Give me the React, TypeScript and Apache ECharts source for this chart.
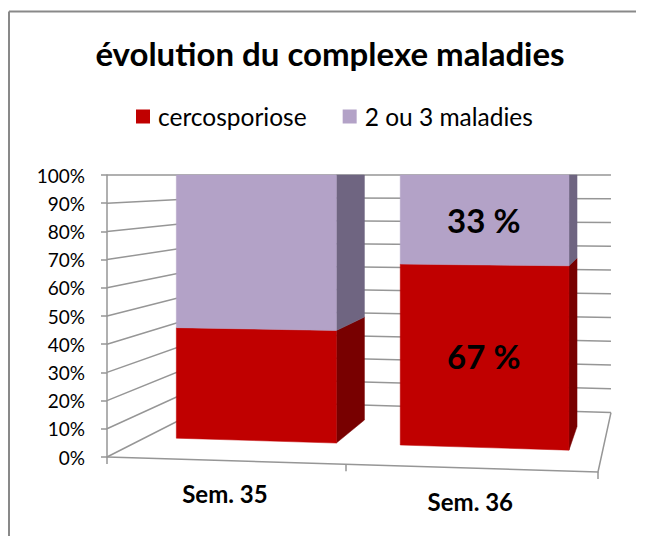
import React, { useEffect, useRef } from "react";
import * as echarts from "echarts";

// ---- data ----
const categories = ["Sem. 35", "Sem. 36"];
const cercosporiose = [42, 67];
const deuxOuTrois = [58, 33];
const showValueLabel = [false, true];
const gridValues = [0, 10, 20, 30, 40, 50, 60, 70, 80, 90, 100];
const seriesNames = ["cercosporiose", "2 ou 3 maladies"];

// ---- layout / style constants (perspective look) ----
const WARP = 0.0516;
const FRONT_SLOPE = 0.0305;
const VP_REL = 1.132;
const WALL_DEPTH = 0.2;
const BAR_FRONT = 0.07;
const BAR_BACK = 0.15;
const BAR_RATIO = 0.72;
const GRID_COLOR = "#969696";
const FRONT_COLORS = ["#C00000", "#B3A2C7"];
const SIDE_COLORS = ["#780000", "#6F6581"];
const FONT = "Lato";

function makeProj(cs: any) {
  const gx = cs.x, gy = cs.y, gw = cs.width, gh = cs.height;
  const vpX = gx + VP_REL * gw;
  return (px: number, py: number, phi: number) => {
    const X = (px - gx) / gw;
    const w = (X * (1 - WARP)) / (1 - WARP * X);
    const xf = gx + gw * w;
    const floorY = gy + gh + FRONT_SLOPE * (xf - gx);
    const vfrac = (py - gy) / gh;
    const yf = gy + vfrac * (floorY - gy);
    return [xf + (vpX - xf) * phi, gy + (yf - gy) * (1 - phi)];
  };
}

function barRender(seriesIdx: number) {
  return (params: any, api: any) => {
    const cat = api.value(0);
    const lo = api.value(1);
    const hi = api.value(2);
    const val = api.value(3);
    const top = api.coord([cat, hi]);
    const bot = api.coord([cat, lo]);
    const bw = api.size([1, 0])[0] * BAR_RATIO;
    const l = top[0] - bw / 2;
    const r = top[0] + bw / 2;
    const P = makeProj(params.coordSys);
    const front = [P(l, top[1], BAR_FRONT), P(r, top[1], BAR_FRONT), P(r, bot[1], BAR_FRONT), P(l, bot[1], BAR_FRONT)];
    const side = [P(r, top[1], BAR_FRONT), P(r, top[1], BAR_BACK), P(r, bot[1], BAR_BACK), P(r, bot[1], BAR_FRONT)];
    const children: any[] = [
      { type: "polygon", shape: { points: side }, style: { fill: SIDE_COLORS[seriesIdx], stroke: SIDE_COLORS[seriesIdx], lineWidth: 0.5 } },
      { type: "polygon", shape: { points: front }, style: { fill: FRONT_COLORS[seriesIdx], stroke: FRONT_COLORS[seriesIdx], lineWidth: 0.5 } },
    ];
    if (showValueLabel[cat]) {
      const c = P(top[0], (top[1] + bot[1]) / 2, BAR_FRONT);
      children.push({
        type: "text",
        x: c[0],
        y: c[1],
        style: {
          text: `${val} %`,
          fill: "#000",
          fontFamily: FONT,
          fontWeight: "bold",
          fontSize: 33,
          align: "center",
          verticalAlign: "middle",
        },
      });
    }
    return { type: "group", children };
  };
}

export default function App() {
  const ref = useRef<HTMLDivElement>(null);
  useEffect(() => {
    if (!ref.current) return;
    const chart = echarts.init(ref.current, null, { renderer: "svg" });
    const lineStyle = { stroke: GRID_COLOR, lineWidth: 1.5, fill: "none" };
    const option: any = {
      animation: false,
      backgroundColor: "#ffffff",
      title: {
        text: "évolution du complexe maladies",
        left: 325,
        textAlign: "center",
        top: 31,
        textStyle: { fontFamily: FONT, fontWeight: "bold", fontSize: 33, color: "#000" },
      },
      legend: {
        data: seriesNames,
        top: 99,
        left: 131,
        icon: "rect",
        itemWidth: 14,
        itemHeight: 14,
        itemGap: 36,
        textStyle: { fontFamily: FONT, fontSize: 24.5, color: "#000", padding: [0, 0, 0, 3] },
      },
      graphic: [
        {
          type: "line",
          shape: { x1: 9, y1: 11.5, x2: 636, y2: 11.5 },
          style: { stroke: "#898989", lineWidth: 2 },
          silent: true,
        },
        {
          type: "line",
          shape: { x1: 9, y1: 11.5, x2: 9, y2: 536 },
          style: { stroke: "#898989", lineWidth: 2 },
          silent: true,
        },
      ],
      grid: { left: 107, top: 175, width: 491, height: 282 },
      xAxis: { type: "category", data: categories, show: false },
      yAxis: {
        type: "value",
        min: 0,
        max: 100,
        interval: 10,
        axisLabel: { formatter: "{value}%", fontFamily: FONT, fontSize: 19, color: "#000", margin: 22 },
        axisLine: { show: true, lineStyle: { color: GRID_COLOR, width: 1.5 } },
        axisTick: { show: true, length: 6, lineStyle: { color: GRID_COLOR, width: 1.5 } },
        splitLine: { show: false },
      },
      series: [
        {
          type: "custom",
          name: "frame",
          z: 1,
          silent: true,
          encode: { x: 0, y: 1 },
          data: gridValues.map((v) => [0, v]),
          renderItem: (params: any, api: any) => {
            const cs = params.coordSys;
            const P = makeProj(cs);
            const v = api.value(1);
            const py = api.coord([0, v])[1];
            const gx = cs.x, gw = cs.width;
            const children: any[] = [
              {
                type: "polyline",
                shape: { points: [P(gx, py, 0), P(gx, py, WALL_DEPTH), P(gx + gw, py, WALL_DEPTH)] },
                style: lineStyle,
              },
            ];
            if (v === 0) {
              children.push({ type: "polyline", shape: { points: [P(gx + gw, py, WALL_DEPTH), P(gx + gw, py, 0), P(gx, py, 0)] }, style: lineStyle });
              const half = api.size([1, 0])[0] / 2;
              const bounds = [api.coord([0, 0])[0] - half];
              categories.forEach((_, i) => bounds.push(api.coord([i, 0])[0] + half));
              bounds.forEach((bx) => {
                const p = P(bx, py, 0);
                children.push({ type: "line", shape: { x1: p[0], y1: p[1], x2: p[0], y2: p[1] + 7 }, style: lineStyle });
              });
            }
            return { type: "group", children };
          },
        },
        {
          type: "custom",
          name: seriesNames[0],
          z: 2,
          itemStyle: { color: FRONT_COLORS[0] },
          encode: { x: 0, y: 2 },
          data: categories.map((_, i) => [i, 0, cercosporiose[i], cercosporiose[i]]),
          renderItem: barRender(0),
        },
        {
          type: "custom",
          name: seriesNames[1],
          z: 2,
          itemStyle: { color: FRONT_COLORS[1] },
          encode: { x: 0, y: 2 },
          data: categories.map((_, i) => [i, cercosporiose[i], cercosporiose[i] + deuxOuTrois[i], deuxOuTrois[i]]),
          renderItem: barRender(1),
        },
        {
          type: "custom",
          name: "categoryLabels",
          z: 3,
          silent: true,
          encode: { x: 0, y: 1 },
          data: categories.map((_, i) => [i, 0]),
          renderItem: (params: any, api: any) => {
            const P = makeProj(params.coordSys);
            const i = api.value(0);
            const p0 = api.coord([i, 0]);
            const p = P(p0[0], p0[1], 0);
            return {
              type: "text",
              x: p[0],
              y: p[1] + 33,
              style: {
                text: categories[i],
                fill: "#000",
                fontFamily: FONT,
                fontWeight: "bold",
                fontSize: 24,
                align: "center",
                verticalAlign: "middle",
              },
            };
          },
        },
      ],
    };
    chart.setOption(option);
    return () => chart.dispose();
  }, []);
  return <div ref={ref} style={{ position: "fixed", left: 0, top: 0, width: 647, height: 536 }} />;
}
